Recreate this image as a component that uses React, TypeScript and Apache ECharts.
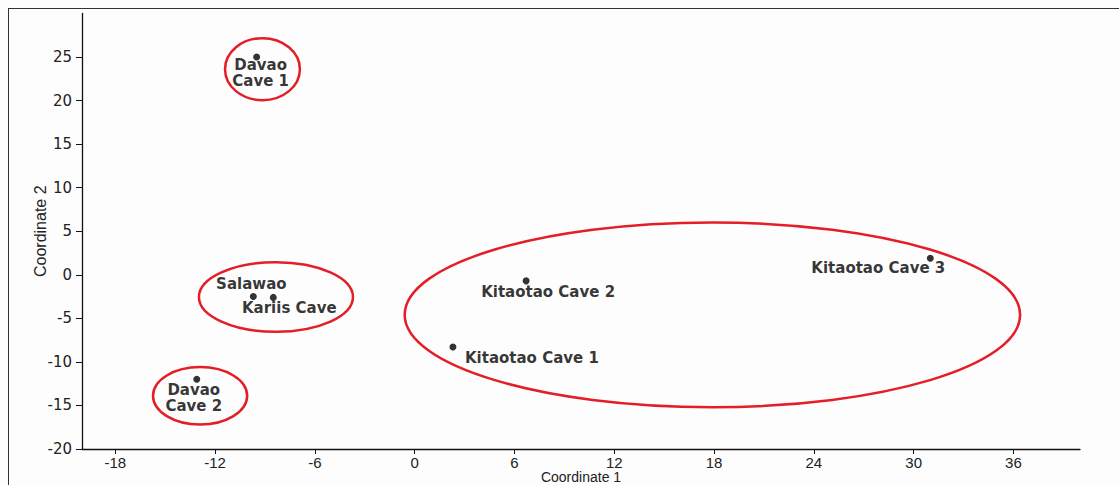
import React, { useEffect, useRef } from "react";
import * as echarts from "echarts";

const siteNames = [
  "Davao\nCave 1",
  "Salawao",
  "Kariis Cave",
  "Davao\nCave 2",
  "Kitaotao Cave 2",
  "Kitaotao Cave 1",
  "Kitaotao Cave 3",
];
const coord1 = [-9.5, -9.7, -8.5, -13.1, 6.7, 2.3, 31.0];
const coord2 = [25.0, -2.5, -2.6, -12.0, -0.7, -8.3, 1.9];
// label offsets in px relative to the point
const labelOffsets = [
  [4, 16],
  [-2, -13],
  [16, 11],
  [-3, 19],
  [22, 11],
  [79, 11],
  [-52, 10],
];

// cluster ellipses: centre x, centre y, radius x, radius y (data units)
const ellipseCx = [-9.15, -8.34, -12.9, 17.9];
const ellipseCy = [23.6, -2.55, -13.9, -4.6];
const ellipseRx = [2.25, 4.63, 2.83, 18.5];
const ellipseRy = [3.56, 4.0, 3.3, 10.6];

const xTicks = [-18, -12, -6, 0, 6, 12, 18, 24, 30, 36];
const yTicks = [-20, -15, -10, -5, 0, 5, 10, 15, 20, 25];

export default function App() {
  const ref = useRef<HTMLDivElement>(null);
  useEffect(() => {
    if (!ref.current) return;
    const chart = echarts.init(ref.current, null, { renderer: "svg" });
    const points = siteNames.map((n, i) => ({
      name: n,
      value: [coord1[i], coord2[i]],
      label: { offset: labelOffsets[i] },
    }));
    const ellipses = ellipseCx.map((cx, i) => [cx, ellipseCy[i], ellipseRx[i], ellipseRy[i]]);
    chart.setOption({
      animation: false,
      backgroundColor: "#fdfdfd",
      grid: { left: 82, right: 39, top: 13.4, bottom: 36, containLabel: false, outerBoundsMode: "none" },
      xAxis: {
        type: "value", min: -20, max: 40,
        name: "Coordinate 1", nameLocation: "middle", nameGap: 21, nameMoveOverlap: false,
        nameTextStyle: { fontFamily: "Liberation Sans Narrow, Liberation Sans, Arial", fontSize: 14, lineHeight: 14, color: "#222" },
        splitLine: { show: false },
        axisLine: { onZero: false, lineStyle: { color: "#111", width: 1.3 } },
        axisTick: { show: true, length: 5, customValues: xTicks, lineStyle: { color: "#111" } },
        axisLabel: { customValues: xTicks, margin: 6, fontFamily: "Liberation Sans Narrow, Liberation Sans, Arial", fontSize: 15, lineHeight: 15, color: "#222" },
      },
      yAxis: {
        type: "value", min: -20, max: 30,
        name: "Coordinate 2", nameLocation: "middle", nameGap: 34, nameMoveOverlap: false,
        nameTextStyle: { fontFamily: "Liberation Sans Narrow, Liberation Sans, Arial", fontSize: 16, color: "#222" },
        splitLine: { show: false },
        axisLine: { show: true, onZero: false, lineStyle: { color: "#111", width: 1.3 } },
        axisTick: { show: true, length: 6, customValues: yTicks, lineStyle: { color: "#111" } },
        axisLabel: { customValues: yTicks, margin: 10, fontFamily: "DejaVu Sans", fontSize: 15, color: "#222" },
      },
      graphic: [
        { type: "line", shape: { x1: 8, y1: 8.5, x2: 1119, y2: 8.5 }, style: { stroke: "#333", lineWidth: 1 } },
        { type: "line", shape: { x1: 8.5, y1: 8, x2: 8.5, y2: 485 }, style: { stroke: "#333", lineWidth: 1 } },
      ],
      series: [
        {
          type: "custom", clip: false, data: ellipses, encode: { x: 0, y: 1 }, silent: true,
          renderItem: (params: any, api: any) => {
            const c = api.coord([api.value(0), api.value(1)]);
            const s = api.size([api.value(2), api.value(3)]);
            return { type: "ellipse", shape: { cx: c[0], cy: c[1], rx: s[0], ry: s[1] }, style: { fill: "none", stroke: "#e41e26", lineWidth: 2.5 } };
          },
        },
        {
          type: "scatter", symbol: "circle", symbolSize: 7, itemStyle: { color: "#000" }, data: points,
          label: { show: true, position: "inside", formatter: "{b}", align: "center", verticalAlign: "middle", fontFamily: "DejaVu Sans", fontWeight: "bold", fontSize: 15, lineHeight: 16, color: "#000" },
        },
      ],
    });
    return () => chart.dispose();
  }, []);
  return <div ref={ref} style={{ position: "fixed", left: 0, top: 0, width: 1119, height: 485 }} />;
}
